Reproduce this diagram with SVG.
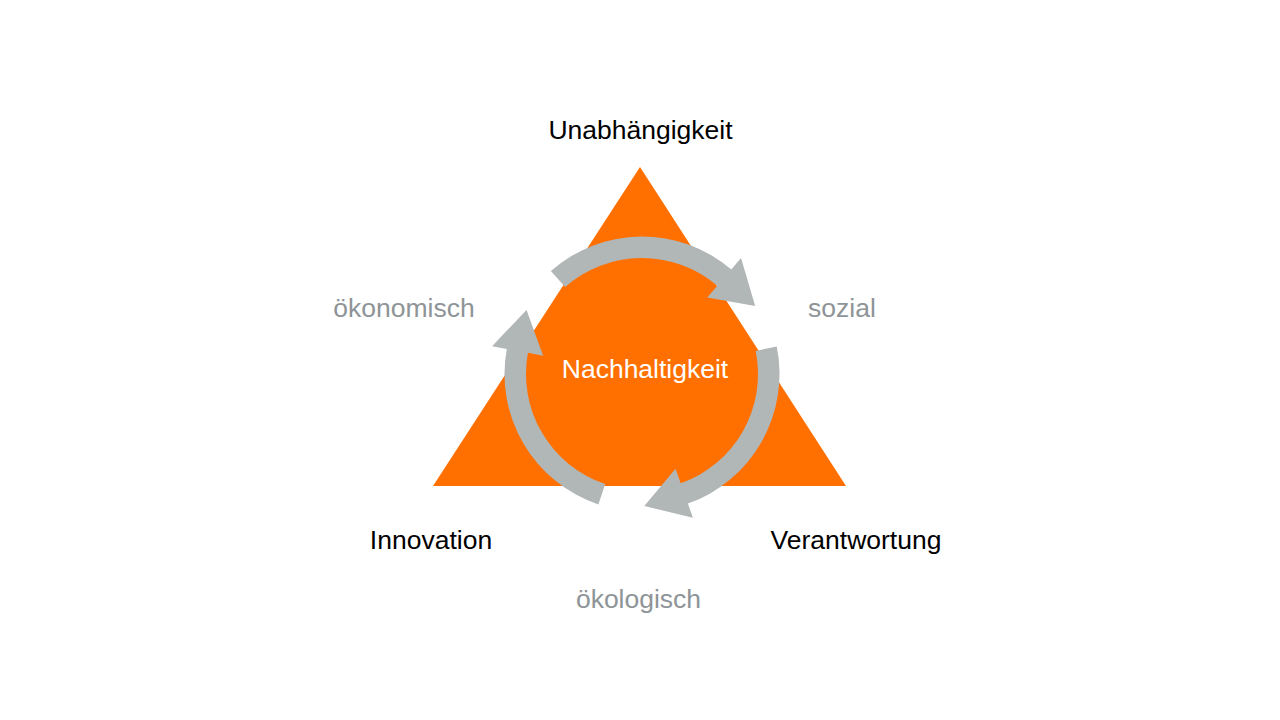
<svg xmlns="http://www.w3.org/2000/svg" xmlns:xlink="http://www.w3.org/1999/xlink" width="1280" height="720" viewBox="0 0 1280 720">
  <style>
    .lbl { font-family: "Liberation Sans", Arial, sans-serif; font-size: 26.5px; text-anchor: middle; }
    .main { fill: #000000; }
    .dim { fill: #8E9497; }
    .center { fill: #FFFFFF; }
    .arrow { fill: #B1B6B7; }
  </style>
  <defs>
    <path id="arc-arrow" class="arrow" d="M550.89,271.02 A137.5,137.5 0 0 1 731.30,269.44 L741.04,258.04 L755.15,306.01 L707.27,297.58 L717.34,285.79 A116,116 0 0 0 565.14,287.12 Z"/>
  </defs>
  <rect width="1280" height="720" fill="#FFFFFF"/>
  <g id="triangle">
    <polygon points="640,167 433,486 846,486" fill="#FF7000"/>
  </g>
  <g id="connectors">
    <use xlink:href="#arc-arrow" href="#arc-arrow"/>
    <use xlink:href="#arc-arrow" href="#arc-arrow" transform="rotate(120 642 374)"/>
    <use xlink:href="#arc-arrow" href="#arc-arrow" transform="rotate(240 642 374)"/>
  </g>
  <g id="node-nachhaltigkeit">
    <text class="lbl center" x="645" y="378">Nachhaltigkeit</text>
  </g>
  <g id="node-unabhaengigkeit">
    <text class="lbl main" x="640.5" y="139">Unabhängigkeit</text>
  </g>
  <g id="node-innovation">
    <text class="lbl main" x="431" y="549">Innovation</text>
  </g>
  <g id="node-verantwortung">
    <text class="lbl main" x="856" y="549">Verantwortung</text>
  </g>
  <g id="node-oekonomisch">
    <text class="lbl dim" x="404" y="317">ökonomisch</text>
  </g>
  <g id="node-sozial">
    <text class="lbl dim" x="842" y="317">sozial</text>
  </g>
  <g id="node-oekologisch">
    <text class="lbl dim" x="638.5" y="608">ökologisch</text>
  </g>
</svg>
